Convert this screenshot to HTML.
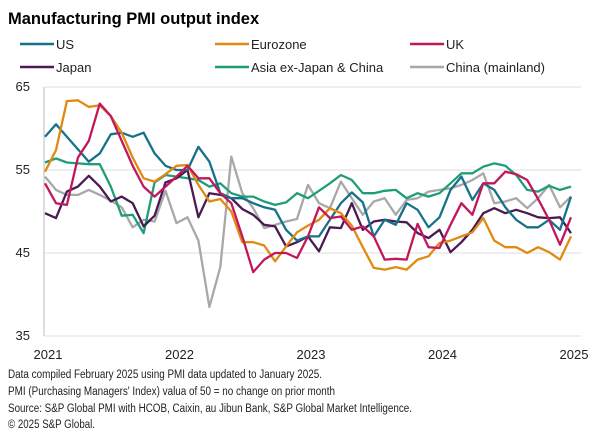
<!DOCTYPE html>
<html><head><meta charset="utf-8"><style>
html,body{margin:0;padding:0;background:#fff;}
svg{display:block;font-family:"Liberation Sans",Arial,sans-serif;}
</style></head><body>
<svg id="chart" width="610" height="442" viewBox="0 0 610 442">
<text x="8" y="24" font-size="16.5" font-weight="bold" fill="#000">Manufacturing PMI output index</text>
<g id="legend"></g>
<g id="grid"></g>
<g id="yaxis"></g>
<g id="xaxis"></g>
<g id="series"></g>
<g font-size="11.5" fill="#222">
<text x="8" y="378" textLength="314" lengthAdjust="spacingAndGlyphs">Data compiled February 2025 using PMI data updated to January 2025.</text>
<text x="8" y="395" textLength="327" lengthAdjust="spacingAndGlyphs">PMI (Purchasing Managers' Index) valua of 50 = no change on prior month</text>
<text x="8" y="412" textLength="404" lengthAdjust="spacingAndGlyphs">Source: S&amp;P Global PMI with HCOB, Caixin, au Jibun Bank, S&amp;P Global Market Intelligence.</text>
<text x="8" y="428" textLength="87" lengthAdjust="spacingAndGlyphs">© 2025 S&amp;P Global.</text>
</g>
</svg>
<script>
const yTicks = [35, 45, 55, 65];
const xYears = ["2021", "2022", "2023", "2024", "2025"];
const seriesNames = ["US", "Eurozone", "UK", "Japan", "Asia ex-Japan & China", "China (mainland)"];
const seriesColors = ["#16728a", "#e08a12", "#c2185b", "#4a1a52", "#1e9e78", "#a8a8a8"];
const us = [59,60.5,59,57.5,56,57,59.3,59.5,59,59.5,57,55.5,55,55,57.8,56,52.2,51.6,51.6,51,50.5,50.2,47.8,46.5,47,47,49,51,52.3,51.1,47,49,48.4,51,50.2,48.1,49.3,52.6,54.2,51.4,53.4,52.6,50.5,49,48.1,48.1,49,47.8,51.8];
const eurozone = [54.8,57.4,63.3,63.4,62.6,62.8,61.5,59.5,56.5,54,53.6,54.5,55.5,55.6,53.2,51.2,51.5,50,46.3,46.3,45.9,44,45.8,47.5,48.3,49,50.4,49.8,48.3,45.7,43.2,43,43.3,43,44.2,44.6,46.2,46.5,47,47.5,49.2,46.5,45.7,45.7,45,45.7,45.1,44.2,47];
const uk = [53.4,51,50.8,56.5,58.5,63,61.5,58.5,55.5,53,51.8,53,54.2,55.5,54,54,52.2,51,47,42.7,44.2,45,45,44.4,47,50.5,49.2,49.4,47.8,48.2,47,44.2,44.3,44.2,48.5,45.7,45.6,48.4,51,49.6,53.4,53.4,54.8,54.5,53.8,51.5,49,46,49.3];
const japan = [49.8,49.2,52.4,53,54.3,53,51.2,51.8,51,48.2,49.5,53.5,54,55,49.3,52.2,52,51.6,50.3,49.6,48.4,48.2,45.8,46.3,47,45.2,48.1,48,51,47.8,48.8,49,48.8,48.7,47.4,46.8,47.8,45.1,46.3,47.8,49.8,50.4,49.8,50.2,49.8,49.3,49.2,49.3,47.4];
const asia = [55.9,56.4,55.9,55.8,55.7,55.7,53,49.5,49.6,47.4,53.5,54.4,54.2,54,53.8,53,53.4,52.2,51.8,51.8,51.2,50.8,51.1,52.2,51.6,52.5,53.4,54.4,53.8,52.2,52.2,52.5,52.6,51.6,52.2,51.8,52.2,53.4,54.6,54.6,55.4,55.8,55.5,54.4,52.6,52.4,53.1,52.6,53];
const china = [54.2,52.6,52,52,52.6,52,51.3,50.5,48.1,49,48.8,52.5,48.6,49.3,46.5,38.5,43.3,56.6,52.2,50.4,48,48.4,48.8,49.1,53.2,51,50.4,53.6,51.6,49.6,51.2,51.6,49.6,51.4,51.6,52.4,52.6,52.8,53.2,53.8,54.6,51,51.2,51.6,50.4,51.6,53.2,50.5,51.8];
const allSeries = [us, eurozone, uk, japan, asia, china];

const NS = "http://www.w3.org/2000/svg";
const X0 = 45, X1 = 571, Y0 = 336, Y1 = 87, VMIN = 35, VMAX = 65;
function xScale(i){ return X0 + (X1 - X0) * i / 48; }
function yScale(v){ return Y0 - (v - VMIN) / (VMAX - VMIN) * (Y0 - Y1); }
function mk(tag, attrs, parent){ const e = document.createElementNS(NS, tag); for (const k in attrs) e.setAttribute(k, attrs[k]); parent.appendChild(e); return e; }

const grid = document.getElementById("grid");
const yaxis = document.getElementById("yaxis");
yTicks.forEach(t => {
  const l = mk("line", {x1: X0, x2: 581, y1: yScale(t), y2: yScale(t), stroke: "#dcdcdc", "stroke-width": 1}, grid);
  
  
  const tx = mk("text", {x: 30, y: yScale(t) + 4, "text-anchor": "end", "font-size": 13, fill: "#222"}, yaxis);
  tx.textContent = t;
  
  
});
const ax = mk("line", {x1: 44, x2: 44, y1: Y1, y2: Y0, stroke: "#bbb", "stroke-width": 1}, yaxis);



const xaxis = document.getElementById("xaxis");
xYears.forEach((y, k) => {
  const tx = mk("text", {x: xScale(k * 12) + 3, y: 359, "text-anchor": "middle", "font-size": 13, fill: "#222"}, xaxis);
  tx.textContent = y;
  
  
});

const sg = document.getElementById("series");
const order = [5, 4, 3, 0, 1, 2];
order.forEach(s => {
  const pts = allSeries[s].map((v, i) => xScale(i).toFixed(1) + "," + yScale(v).toFixed(1)).join(" ");
  const pl = mk("polyline", {points: pts, fill: "none", stroke: seriesColors[s], "stroke-width": 2.3, "stroke-linejoin": "round"}, sg);
  
  
});

const lg = document.getElementById("legend");
const lgX = [20, 215, 410], lgY = [44, 67];
seriesNames.forEach((n, s) => {
  const cx = lgX[s % 3], cy = lgY[Math.floor(s / 3)];
  const g = mk("g", {}, lg);
  
  
  mk("line", {x1: cx, x2: cx + 34, y1: cy, y2: cy, stroke: seriesColors[s], "stroke-width": 2.5}, g);
  const t = mk("text", {x: cx + 36, y: cy + 5, "font-size": 13, fill: "#222"}, g);
  t.textContent = n;
});
</script>
</body></html>
